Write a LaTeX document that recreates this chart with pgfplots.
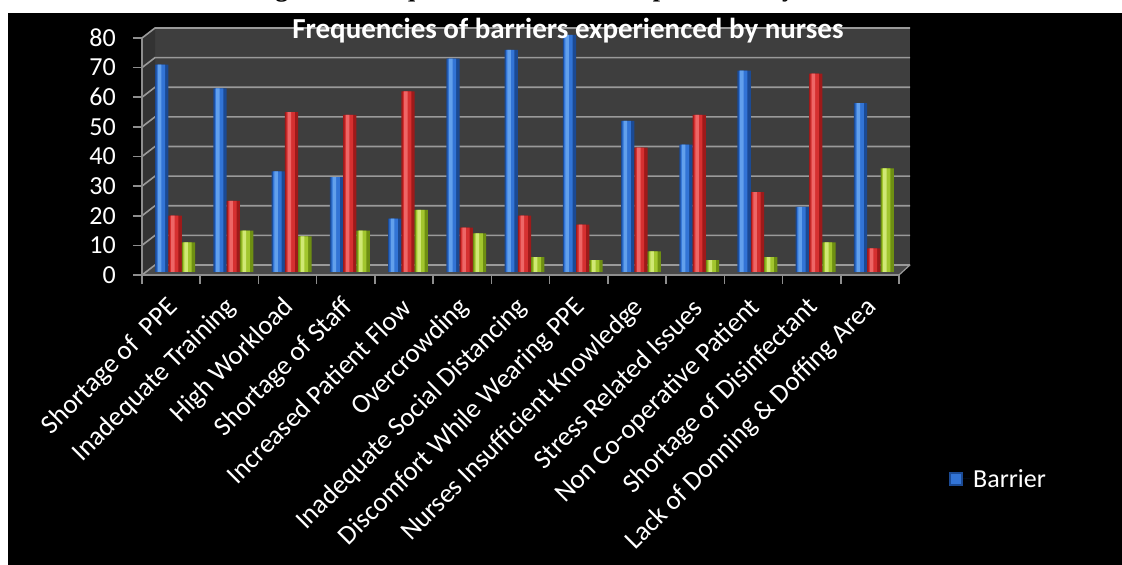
\documentclass[border=0pt]{standalone}
\usepackage{pgfplots}
\usepackage{pgfplotstable}
\pgfplotsset{compat=1.18}
\usepackage{fontspec}
\setmainfont{Carlito}
\newfontfamily\timesfont{Liberation Serif}
\definecolor{wall}{HTML}{3E3E3E}
\definecolor{sidewall}{HTML}{333333}
\definecolor{floorc}{HTML}{484848}
\definecolor{gridc}{HTML}{9A9A9A}
\definecolor{axisc}{HTML}{8E8E8E}
\definecolor{bdark}{HTML}{1B4A94}
\definecolor{bmid}{HTML}{3274D6}
\definecolor{blight}{HTML}{62A0EC}
\definecolor{rdark}{HTML}{9E1A1A}
\definecolor{rmid}{HTML}{D63030}
\definecolor{rlight}{HTML}{EE6666}
\definecolor{gdark}{HTML}{6E8F12}
\definecolor{gmid}{HTML}{A2C62E}
\definecolor{glight}{HTML}{D0E874}

\pgfplotstableread{
x b r g
0.5 70 19 10
1.5 62 24 14
2.5 34 54 12
3.5 32 53 14
4.5 18 61 21
5.5 72 15 13
6.5 75 19 5
7.5 80 16 4
8.5 51 42 7
9.5 43 53 4
10.5 68 27 5
11.5 22 67 10
12.5 57 8 35
}\datatable

\begin{document}
\begin{tikzpicture}[x=1pt,y=1pt]
\fill[white] (0,0) rectangle (1122,565);
\begin{scope}
\clip (0,0) rectangle (1122,565);
\node[anchor=base, font=\timesfont\bfseries\fontsize{26}{30}\selectfont, text=black, inner sep=0pt] at (563,568) {Figure 1: Frequencies of barriers experienced by nurses};
\end{scope}
\fill[black] (8,0) rectangle (1122,552);
% walls
\fill[wall] (155,300) rectangle (910,537);
\fill[sidewall] (142,290) -- (155,300) -- (155,537) -- (142,527) -- cycle;
\fill[floorc] (142,290) -- (899,290) -- (910,300) -- (155,300) -- cycle;
\foreach \v in {0,10,...,80}{
  \draw[gridc, line width=1.6pt] (142,{290+2.9625*\v}) -- (155,{300+2.9625*\v}) -- (910,{300+2.9625*\v});
}
\draw[gridc, line width=1.2pt] (899,290) -- (910,300);

\begin{axis}[
  at={(142pt,290pt)}, anchor=south west,
  scale only axis, width=757pt, height=237pt,
  xmin=0, xmax=13, ymin=0, ymax=80,
  clip=false,
  axis x line*=bottom, axis y line*=left,
  axis line style={axisc, line width=1.6pt, -},
  xtick={0,1,...,13},
  x tick label as interval,
  xticklabels={Shortage of~~PPE, Inadequate Training, High Workload, Shortage of Staff, Increased Patient Flow, Overcrowding, Inadequate Social Distancing, Discomfort While Wearing PPE, Nurses Insufficient Knowledge, Stress Related Issues, Non Co-operative Patient, Shortage of Disinfectant, Lack of Donning \& Doffing Area},
  ytick={0,10,...,80},
  tick align=outside,
  major tick length=9pt,
  tick style={axisc, line width=1.6pt},
  /pgf/number format/assume math mode=true,
  ticklabel style={font=\fontsize{26}{30}\selectfont, text=white},
  xticklabel style={font=\fontsize{27}{32}\selectfont, xshift=4pt, yshift=-18pt, rotate=45, anchor=east, inner sep=2pt},
  yticklabel style={anchor=east, inner sep=0pt, xshift=-17pt},
]
\addplot[draw=none, forget plot] coordinates {(0,0)};
\end{axis}

\begin{axis}[
  at={(146pt,293pt)}, anchor=south west,
  scale only axis, width=757pt, height=237pt,
  xmin=0, xmax=13, ymin=0, ymax=80,
  clip=false, hide axis,
  legend style={at={(1.0608,-0.8734)}, anchor=west, draw=none, fill=none, text=white, font=\fontsize{26}{30}\selectfont, inner sep=0pt},
  legend image code/.code={\path (0pt,0pt) -- (22pt,0pt); \fill[bdark] (0pt,-7pt) rectangle (14pt,7pt); \fill[bmid] (2pt,-5pt) rectangle (12pt,5pt);},
  every axis plot/.append style={ybar, draw=none},
]
% blue
\addplot[fill=bdark, bar width=13.3pt, bar shift=-13.3pt] table[x=x,y=b]{\datatable};
\addlegendentry{Barrier}
\addplot[fill=bmid, bar width=8.5pt, bar shift=-14.3pt, forget plot] table[x=x,y=b]{\datatable};
\addplot[fill=blight, bar width=3.5pt, bar shift=-15.5pt, forget plot] table[x=x,y=b]{\datatable};
% red
\addplot[fill=rdark, bar width=13.3pt, bar shift=0pt, forget plot] table[x=x,y=r]{\datatable};
\addplot[fill=rmid, bar width=8.5pt, bar shift=-1pt, forget plot] table[x=x,y=r]{\datatable};
\addplot[fill=rlight, bar width=3.5pt, bar shift=-2.2pt, forget plot] table[x=x,y=r]{\datatable};
% green
\addplot[fill=gdark, bar width=13.3pt, bar shift=13.3pt, forget plot] table[x=x,y=g]{\datatable};
\addplot[fill=gmid, bar width=8.5pt, bar shift=12.3pt, forget plot] table[x=x,y=g]{\datatable};
\addplot[fill=glight, bar width=3.5pt, bar shift=11.1pt, forget plot] table[x=x,y=g]{\datatable};
\end{axis}

\node[anchor=base, font=\bfseries\fontsize{29}{34}\selectfont, text=white, inner sep=0pt] at (568,526) {Frequencies of barriers experienced by nurses};
\pgfresetboundingbox
\useasboundingbox (0,0) rectangle (1122,565);
\end{tikzpicture}
\end{document}
